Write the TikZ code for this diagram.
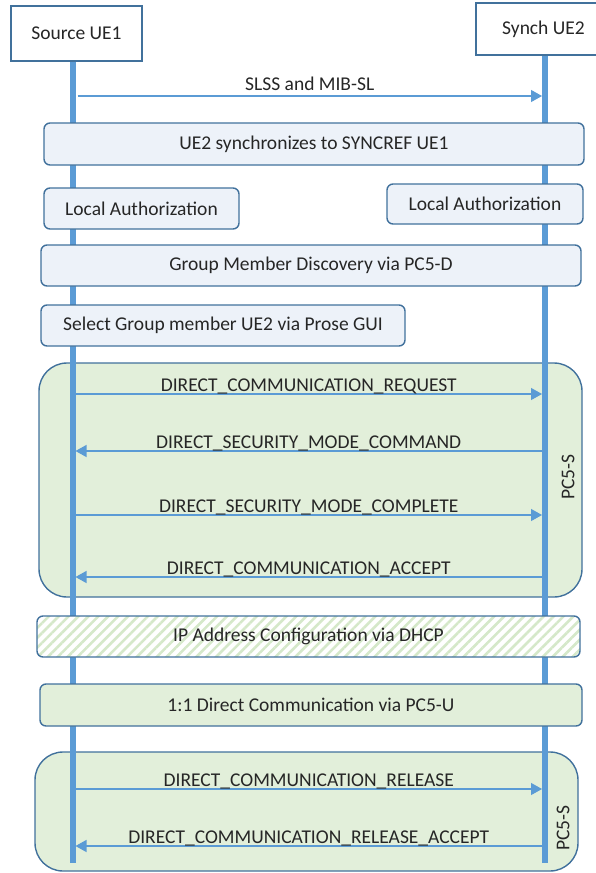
\documentclass[tikz,border=0pt]{standalone}
\usepackage{fontspec}
\setmainfont{Carlito}
\usepackage{xcolor}
\usepackage{tikz}
\usetikzlibrary{arrows.meta,positioning,calc,patterns.meta}

\definecolor{lineblue}{HTML}{5B9BD5}
\definecolor{edgeblue}{HTML}{41719C}
\definecolor{boxblue}{HTML}{EDF2F9}
\definecolor{boxgreen}{HTML}{E2EFDA}
\definecolor{hatchgreen}{HTML}{D5E8C9}
\definecolor{inkgray}{HTML}{262626}

\tikzset{
    entity/.style={draw=edgeblue, line width=1.8pt, fill=white, inner sep=0pt},
    boxbase/.style={draw=edgeblue, line width=1.4pt, rounded corners=6pt, inner sep=0pt},
    procbox/.style={boxbase, fill=boxblue},
    greenbox/.style={boxbase, fill=boxgreen},
    hatchbox/.style={boxbase, preaction={fill=white},
        pattern={Lines[angle=45,distance=7pt,line width=2.6pt]}, pattern color=hatchgreen},
    session/.style={draw=edgeblue, line width=1.4pt, rounded corners=28pt, fill=boxgreen, inner sep=0pt},
    lifeline/.style={lineblue, line width=6pt},
    msg/.style={lineblue, line width=1.2pt},
    toright/.style={-{Triangle[length=11pt,width=12pt]}},
    toleft/.style={{Triangle[length=11pt,width=12pt]}-},
    msglabel/.style={anchor=base, yshift=2.5pt, inner sep=0pt, text=inkgray}
}

\begin{document}
\begin{tikzpicture}[x=1pt, y=-1pt, font=\fontsize{19.5}{22}\selectfont, text=inkgray]
    \useasboundingbox (0,0) rectangle (595,873);

    % PC5-S signalling areas
    \node[session, minimum width=543, minimum height=234] (sess1) at (310.5,480) {};
    \node[session, minimum width=543, minimum height=119] (sess2) at (306.5,811.5) {};
    \node[rotate=90] (sess1lbl) at (568,477) {PC5-S};
    \node[rotate=90] (sess2lbl) at (563,828) {PC5-S};

    % Entities and lifelines
    \node[entity, minimum width=131, minimum height=55] (ue1) at (76.5,33.5) {Source UE1};
    \node[entity, minimum width=135, minimum height=52] (ue2) at (543.5,29) {Synch UE2};
    \coordinate (ue1end) at (72.5,863);
    \coordinate (ue2end) at (545,863);
    \draw[lifeline] (ue1.south -| ue1end) -- (ue1end);
    \draw[lifeline] (ue2.south -| ue2end) -- (ue2end);

    % Procedure boxes
    \node[procbox, minimum width=540, minimum height=42] (sync) at (314,144) {UE2 synchronizes to SYNCREF UE1};
    \node[procbox, minimum width=195, minimum height=41] (auth1) at (141.5,208.5) {Local Authorization};
    \node[procbox, minimum width=196, minimum height=40] (auth2) at (485,204) {Local Authorization};
    \node[procbox, minimum width=540, minimum height=41] (disc) at (311,265.5) {Group Member Discovery via PC5-D};
    \node[procbox, minimum width=364, minimum height=41] (select) at (223,325.5) {Select Group member UE2 via Prose GUI};
    \node[hatchbox, minimum width=543, minimum height=41] (dhcp) at (308.5,636.5) {IP Address Configuration via DHCP};
    \node[greenbox, minimum width=542, minimum height=42] (direct) at (311,705) {1:1 Direct Communication via PC5-U};

    % Messages between the lifelines
    \coordinate (slssa) at ([xshift=5pt]ue1end |- 0,96);
    \coordinate (slssb) at ([xshift=-3pt]ue2end |- 0,96);
    \draw[msg, toright] (slssa) -- (slssb) node[midway, msglabel, yshift=3pt] {SLSS and MIB-SL};

    \foreach \y/\txt/\dir [count=\i] in {
        394/DIRECT\_COMMUNICATION\_REQUEST/toright,
        451/DIRECT\_SECURITY\_MODE\_COMMAND/toleft,
        515/DIRECT\_SECURITY\_MODE\_COMPLETE/toright,
        577/DIRECT\_COMMUNICATION\_ACCEPT/toleft,
        789/DIRECT\_COMMUNICATION\_RELEASE/toright,
        846/DIRECT\_COMMUNICATION\_RELEASE\_ACCEPT/toleft} {
        \coordinate (msga\i) at ([xshift=3pt]ue1end |- 0,\y);
        \coordinate (msgb\i) at ([xshift=-3pt]ue2end |- 0,\y);
        \draw[msg, \dir] (msga\i) -- (msgb\i) node[midway, msglabel] {\txt};
    }
\end{tikzpicture}
\end{document}
